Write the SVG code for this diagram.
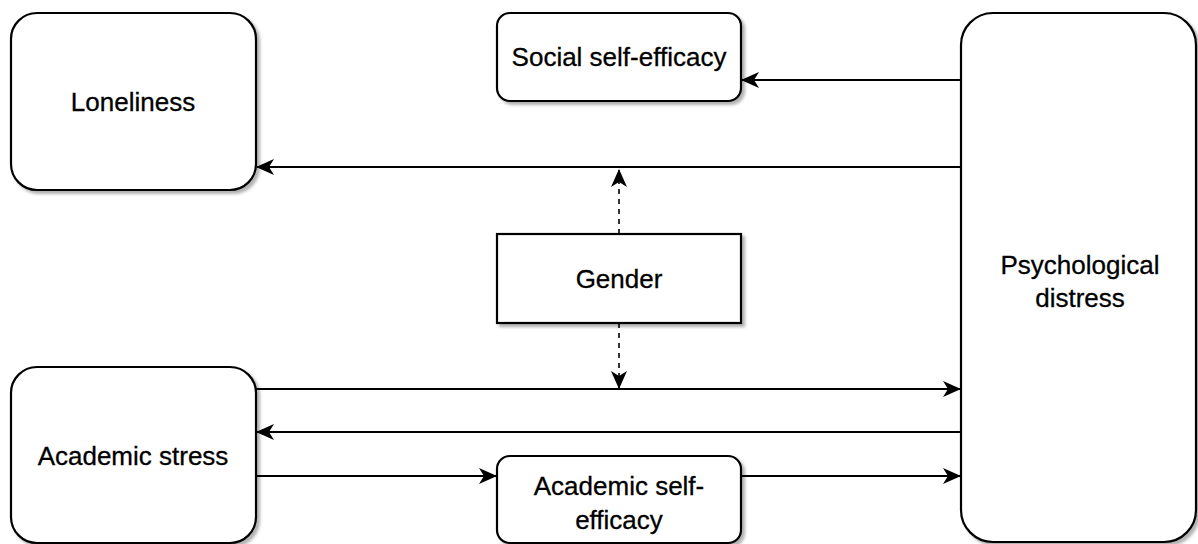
<svg xmlns="http://www.w3.org/2000/svg" width="1198" height="544" viewBox="0 0 1198 544">
<defs>
<style>
.box{fill:#fff;stroke:#000;stroke-width:2.2;filter:url(#sh)}
.lbl{font-family:"Liberation Sans",Arial,sans-serif;font-size:26px;fill:#000;text-anchor:middle;stroke:#000;stroke-width:0.3}
.ln{fill:none;stroke:#000;stroke-width:2.2}
.dash{fill:none;stroke:#000;stroke-width:1.6;stroke-dasharray:5 5}
</style>
<filter id="sh" x="-10%" y="-10%" width="130%" height="130%">
<feDropShadow dx="3" dy="3" stdDeviation="1.5" flood-color="#000" flood-opacity="0.3"/>
</filter>
<marker id="ah" viewBox="0 0 18 16" refX="17" refY="8" markerWidth="18" markerHeight="16" markerUnits="userSpaceOnUse" orient="auto">
<path d="M0,0 L18,8 L0,16 L5,8 Z" fill="#000"/>
</marker>
</defs>
<g id="connectors">
<line class="ln" x1="961" y1="80" x2="742" y2="80" marker-end="url(#ah)"/>
<line class="ln" x1="961" y1="167" x2="257" y2="167" marker-end="url(#ah)"/>
<line class="dash" x1="619" y1="234" x2="619" y2="170" marker-end="url(#ah)"/>
<line class="dash" x1="619" y1="323" x2="619" y2="388" marker-end="url(#ah)"/>
<line class="ln" x1="256" y1="389" x2="960" y2="389" marker-end="url(#ah)"/>
<line class="ln" x1="961" y1="432" x2="257" y2="432" marker-end="url(#ah)"/>
<line class="ln" x1="256" y1="476" x2="496" y2="476" marker-end="url(#ah)"/>
<line class="ln" x1="741" y1="476" x2="960" y2="476" marker-end="url(#ah)"/>
</g>
<g id="loneliness">
<rect class="box" x="11" y="13" width="245" height="177" rx="26"/>
<text class="lbl" x="133" y="111">Loneliness</text>
</g>
<g id="social">
<rect class="box" x="497" y="13" width="244" height="88" rx="13"/>
<text class="lbl" x="619" y="66">Social self-efficacy</text>
</g>
<g id="psych">
<rect class="box" x="961" y="13" width="235" height="529" rx="32"/>
<text class="lbl" x="1080" y="274">Psychological</text>
<text class="lbl" x="1080" y="307">distress</text>
</g>
<g id="gender">
<rect class="box" x="497" y="234" width="244" height="89"/>
<text class="lbl" x="619" y="288">Gender</text>
</g>
<g id="stress">
<rect class="box" x="11" y="367" width="245" height="176" rx="26"/>
<text class="lbl" x="133" y="465">Academic stress</text>
</g>
<g id="ase">
<rect class="box" x="497" y="456" width="244" height="87" rx="13"/>
<text class="lbl" x="619" y="495">Academic self-</text>
<text class="lbl" x="619" y="529">efficacy</text>
</g>
</svg>
